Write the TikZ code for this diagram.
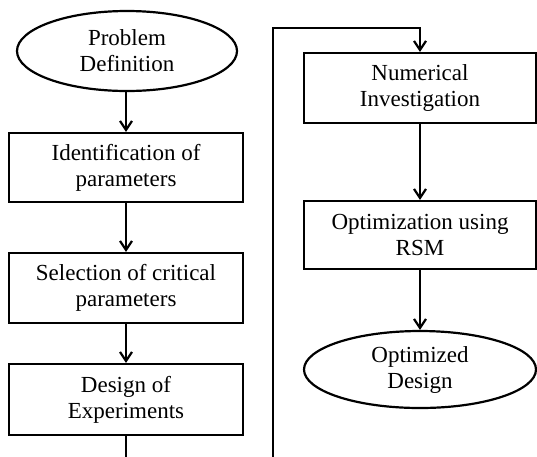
\documentclass[tikz,border=0pt]{standalone}
\usepackage{fontspec}
\setmainfont{Liberation Serif}
\usetikzlibrary{shapes.geometric,arrows.meta}
\begin{document}
\begin{tikzpicture}[x=1pt,y=1pt,
  every node/.style={font=\fontsize{23}{26}\selectfont, align=center, inner sep=0pt},
  procbox/.style={draw, line width=2.2pt, minimum width=234pt},
  termbox/.style={draw, line width=2.2pt, ellipse},
  flow/.style={line width=2.2pt, -{Straight Barb[length=9pt,width=12pt,line width=2.2pt]}},
  plain/.style={line width=2.2pt}]
\useasboundingbox (0,0) rectangle (537,-456);
\node[termbox, minimum width=220pt, minimum height=80pt] (pd) at (127,-51) {Problem\\Definition};
\node[procbox, minimum height=69pt] (id) at (126,-167.5) {Identification of\\parameters};
\node[procbox, minimum height=70pt] (sc) at (126,-288) {Selection of critical\\parameters};
\node[procbox, minimum height=71pt] (de) at (126,-399.5) {Design of\\Experiments};
\coordinate (bl) at (126,-458);
\node[procbox, minimum width=232pt, minimum height=70pt] (ni) at (420,-88) {Numerical\\Investigation};
\node[procbox, minimum width=232pt, minimum height=68pt] (or) at (420,-235) {Optimization using\\RSM};
\node[termbox, minimum width=232pt, minimum height=77pt] (od) at (420,-369.5) {Optimized\\Design};
\coordinate (br) at (273,-458);
\coordinate (tl) at (273,-28);
\coordinate (tr) at (420,-28);
\draw[flow] (pd.south -| id.north) -- (id.north);
\draw[flow] (id) -- (sc);
\draw[flow] (sc) -- (de);
\draw[plain] (de.south) -- (bl);
\draw[flow] (br) -- (tl) -- (tr) -- (ni.north);
\draw[flow] (ni) -- (or);
\draw[flow] (or) -- (od);
\end{tikzpicture}
\end{document}
